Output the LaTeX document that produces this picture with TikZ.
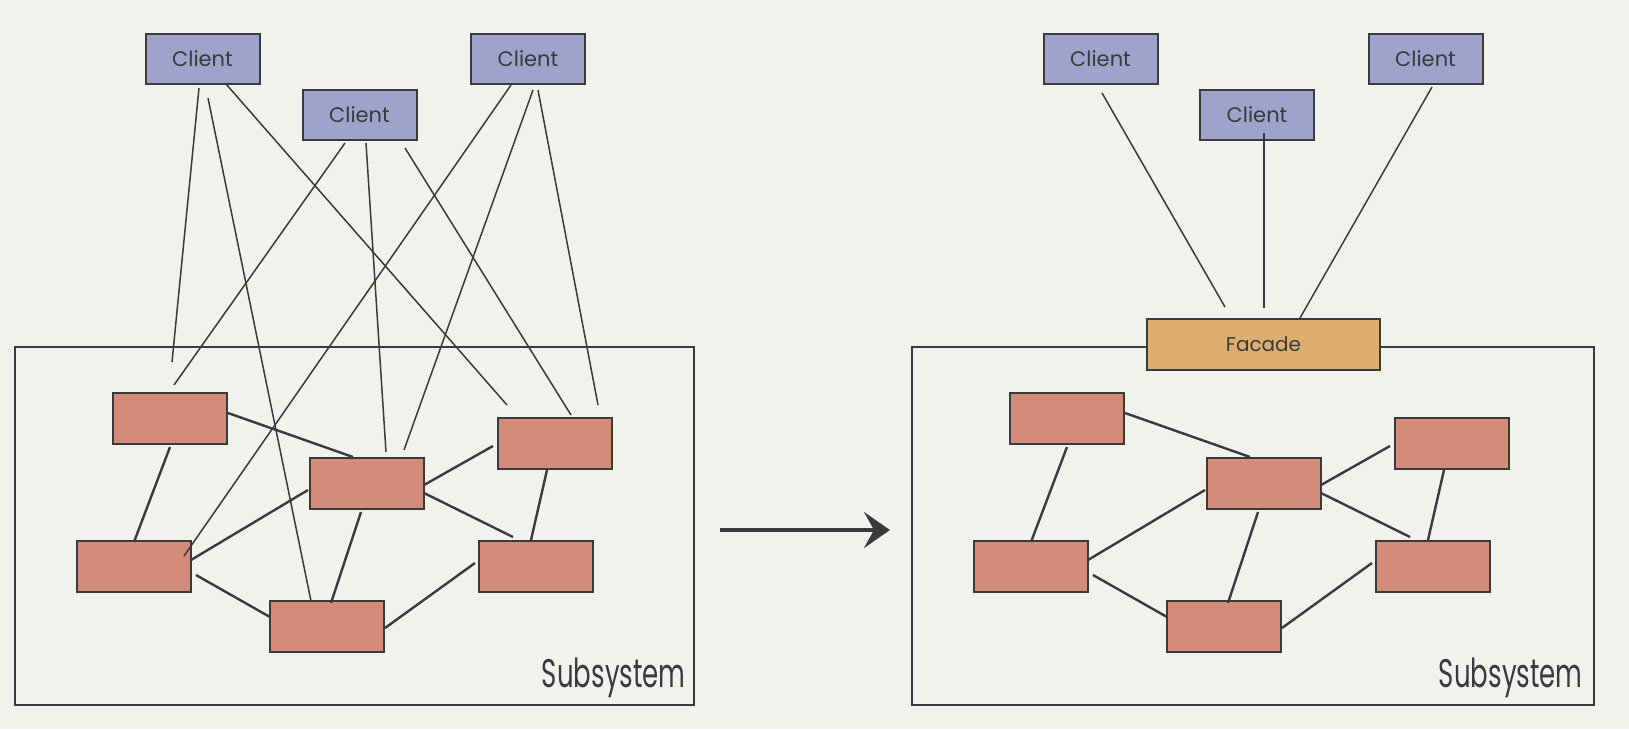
\documentclass[tikz,border=0pt]{standalone}
\usepackage{fontspec}
\setmainfont{Poppins}
\usetikzlibrary{calc,arrows.meta}
\definecolor{bg}{HTML}{F1F1EE}
\definecolor{ink}{HTML}{3A3A3A}
\definecolor{clientfill}{HTML}{9EA3CC}
\definecolor{boxfill}{HTML}{D28C78}
\definecolor{facadefill}{HTML}{DCAF6E}
\tikzset{
  clientbox/.style={draw=ink, line width=1pt, fill=clientfill, minimum width=57pt, minimum height=25pt, inner sep=0pt, outer sep=0pt, text=ink, font=\fontsize{10.5}{12}\selectfont},
  partbox/.style={draw=ink, line width=1pt, fill=boxfill, minimum width=57pt, minimum height=25.5pt, inner sep=0pt, outer sep=0pt},
  facadebox/.style={draw=ink, line width=1pt, fill=facadefill, minimum width=116.5pt, minimum height=25.5pt, inner sep=0pt, outer sep=0pt, text=ink, font=\fontsize{10}{12}\selectfont},
  subframe/.style={draw=ink, line width=0.8pt},
  clientline/.style={draw=ink, line width=0.75pt},
  partline/.style={draw=ink, line width=1.2pt},
  sublabel/.style={anchor=base east, inner sep=0pt, text=ink},
  bigarrow/.style={draw=ink, line width=2.2pt, -{Stealth[length=13pt,width=18pt,inset=5pt]}}
}
\newcommand{\subtext}{\scalebox{0.65}[1]{\fontsize{20}{20}\selectfont Subsystem}}
\begin{document}
\begin{tikzpicture}[x=0.5pt,y=-0.5pt]
\useasboundingbox (0,0) rectangle (1629,729);
\fill[bg] (0,0) rectangle (1629,729);

% ---------- left panel ----------
\draw[subframe] (15,347) rectangle (694,705);
\node[sublabel] (lsub) at (686,687) {\subtext};

\node[clientbox] (A) at (202.5,59) {Client};
\node[clientbox] (B) at (359.5,115) {Client};
\node[clientbox] (C) at (528,59) {Client};

\node[partbox] (b1) at (170,418.5) {};
\node[partbox] (M)  at (366.5,483.5) {};
\node[partbox] (RT) at (554.5,443.5) {};
\node[partbox] (LB) at (133.5,566.5) {};
\node[partbox] (RB) at (536,566.5) {};
\node[partbox] (Bt) at (327,626.5) {};

% client connectors
\draw[clientline] ($(A)+(-3.5,29)$) -- ($(b1)+(2,-56.5)$);
\draw[clientline] ($(A)+(5.5,39)$) -- ($(Bt)+(-16,-25.5)$);
\draw[clientline] ($(A)+(23.5,25)$) -- ($(RT)+(-47.5,-38.5)$);
\draw[clientline] ($(B)+(-14.5,28)$) -- ($(b1)+(4,-33.5)$);
\draw[clientline] ($(B)+(6.5,28)$) -- ($(M)+(19.5,-31.5)$);
\draw[clientline] ($(B)+(45.5,33)$) -- ($(RT)+(16.5,-28.5)$);
\draw[clientline] ($(C)+(-17,26)$) -- ($(LB)+(50.5,-10.5)$);
\draw[clientline] ($(C)+(5,31)$) -- ($(M)+(37.5,-33.5)$);
\draw[clientline] ($(C)+(10,31)$) -- ($(RT)+(43.5,-38.5)$);

% part connectors
\draw[partline] ($(b1)+(58,-5.5)$) -- ($(M)+(-13.5,-26.5)$);
\draw[partline] ($(b1)+(0,28.5)$) -- ($(LB)+(0.5,-24.5)$);
\draw[partline] ($(LB)+(57.5,-6.5)$) -- ($(M)+(-58.5,6.5)$);
\draw[partline] ($(LB)+(62.5,8.5)$) -- ($(Bt)+(-57,-9.5)$);
\draw[partline] ($(M)+(-5.5,28.5)$) -- ($(Bt)+(4,-23.5)$);
\draw[partline] ($(M)+(57.5,1.5)$) -- ($(RT)+(-61.5,2.5)$);
\draw[partline] ($(M)+(57.5,9.5)$) -- ($(RB)+(-23,-29.5)$);
\draw[partline] ($(RT)+(-7.5,26.5)$) -- ($(RB)+(-5,-26.5)$);
\draw[partline] ($(RB)+(-61,-3.5)$) -- ($(Bt)+(58,1.5)$);

% ---------- arrow ----------
\coordinate (arrS) at (720,530);
\coordinate (arrE) at (890,530);
\draw[bigarrow] (arrS) -- (arrE);

% ---------- right panel ----------
\draw[subframe] (912,347) rectangle (1594,705);
\node[sublabel] (rsub) at (1583,687) {\subtext};

\node[clientbox] (D) at (1100.5,59) {Client};
\node[clientbox] (E) at (1257,115) {Client};
\node[clientbox] (F) at (1425.5,59) {Client};
\node[facadebox] (Fa) at (1263.5,344.5) {Facade};

\node[partbox] (rb1) at (1067,418.5) {};
\node[partbox] (rM)  at (1263.5,483.5) {};
\node[partbox] (rRT) at (1451.5,443.5) {};
\node[partbox] (rLB) at (1030.5,566.5) {};
\node[partbox] (rRB) at (1433,566.5) {};
\node[partbox] (rBt) at (1224,626.5) {};

\draw[clientline] ($(D)+(1.5,34)$) -- ($(Fa)+(-38.5,-37.5)$);
\draw[clientline] ($(E)+(7,18)$) -- ($(Fa)+(0.5,-36.5)$);
\draw[clientline] ($(F)+(6.5,28)$) -- ($(Fa)+(36.5,-26.5)$);

\draw[partline] ($(rb1)+(58,-5.5)$) -- ($(rM)+(-13.5,-26.5)$);
\draw[partline] ($(rb1)+(0,28.5)$) -- ($(rLB)+(0.5,-24.5)$);
\draw[partline] ($(rLB)+(57.5,-6.5)$) -- ($(rM)+(-58.5,6.5)$);
\draw[partline] ($(rLB)+(62.5,8.5)$) -- ($(rBt)+(-57,-9.5)$);
\draw[partline] ($(rM)+(-5.5,28.5)$) -- ($(rBt)+(4,-23.5)$);
\draw[partline] ($(rM)+(57.5,1.5)$) -- ($(rRT)+(-61.5,2.5)$);
\draw[partline] ($(rM)+(57.5,9.5)$) -- ($(rRB)+(-23,-29.5)$);
\draw[partline] ($(rRT)+(-7.5,26.5)$) -- ($(rRB)+(-5,-26.5)$);
\draw[partline] ($(rRB)+(-61,-3.5)$) -- ($(rBt)+(58,1.5)$);
\end{tikzpicture}
\end{document}
